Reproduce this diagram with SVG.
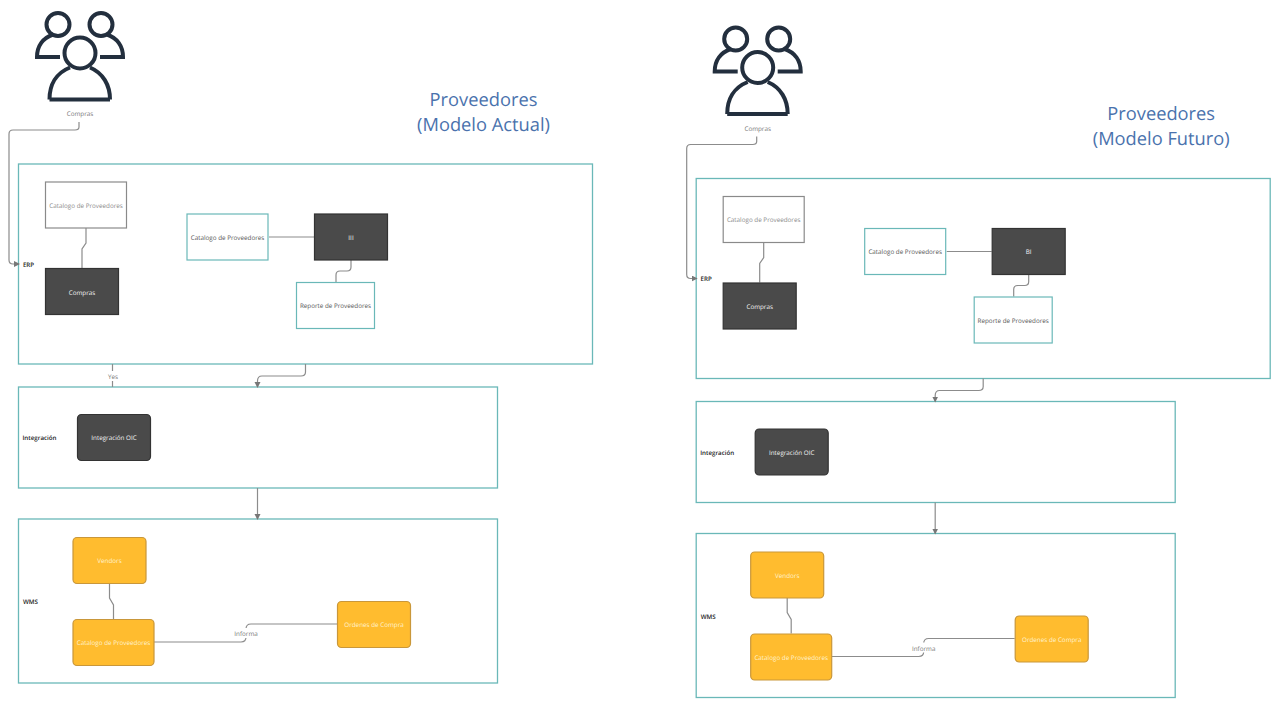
<svg xmlns="http://www.w3.org/2000/svg" width="1280" height="707" viewBox="0 0 1280 707">
<style>
text{font-family:"Open Sans","Noto Sans","Liberation Sans",sans-serif;font-size:6.3px;text-anchor:middle;dominant-baseline:central;text-rendering:geometricPrecision}
.lane{fill:#fff;stroke:#6ab8b8;stroke-width:1.3}
.plain{fill:#fff;stroke:#8a8a8a;stroke-width:1.2}
.teal{fill:#fff;stroke:#6ab8b8;stroke-width:1.2}
.dark{fill:#4a4a4a;stroke:#333;stroke-width:1.2}
.amber{fill:#ffbc2f;stroke:#c9973a;stroke-width:1.2}
.c{fill:none;stroke:#8c8c8c;stroke-width:1.2}
.ci{fill:none;stroke:#232f3e;stroke-width:4}
.t{font-size:18.300px;fill:#4a72ad}
.g{fill:#8a8a8a}
.d{fill:#555}
.w{fill:#f4f4f4}
.a{fill:#fff3d0}
.l{fill:#222;font-weight:600;font-size:6.200px}
.lb{fill:#777}
</style>
<defs>
<marker id="ah" markerWidth="7" markerHeight="7" refX="5" refY="3" orient="auto" markerUnits="userSpaceOnUse"><path d="M0 0L6 3L0 6z" fill="#777"/></marker>
<g id="people">
<circle class="ci" cx="58" cy="24.500" r="11.500"/>
<circle class="ci" cx="101" cy="24.500" r="11.500"/>
<circle class="ci" cx="80" cy="53" r="15.500"/>
<path class="ci" d="M60 57H37C37 46 43 38 53 34.500M100 57H123C123 46 117 38 107 34.500"/>
<path class="ci" d="M49.500 99.500H110M49.500 99.500C49.500 85 56 73 70 67.500M110 99.500C110 85 103 73 90 67.500"/>
</g>
</defs>

<g id="panel-actual">
<use id="icon-compras-actual" href="#people"/>
<g id="lane-erp"><rect class="lane" x="18.500" y="164" width="574" height="200"/><text class="l" x="28.500" y="264">ERP</text></g>
<g id="lane-integracion"><rect class="lane" x="18.500" y="387" width="479" height="101"/><text class="l" x="39.500" y="437.500">Integración</text></g>
<g id="lane-wms"><rect class="lane" x="18.500" y="519" width="479" height="164"/><text class="l" x="30.500" y="601.500">WMS</text></g>
<g id="conn-actual">
<path class="c" d="M79 122V127Q79 130 75 130H13Q9 130 9 134V260Q9 264 13 264H19" marker-end="url(#ah)"/>
<path class="c" d="M86 228V243L82 249V268"/>
<path class="c" d="M269 237H314"/>
<path class="c" d="M351 260V267Q351 271 347 271H340Q336 271 336 275V282"/>
<path class="c" d="M112.500 364V387"/>
<path class="c" d="M305.500 364V372Q305.500 376 301 376H262Q257.500 376 257.500 381V387" marker-end="url(#ah)"/>
<path class="c" d="M257.500 488V519" marker-end="url(#ah)"/>
<path class="c" d="M109.500 583V598L113.500 605V619"/>
<path class="c" d="M154 642H241Q246 642 246 637V629Q246 624 251 624H337"/>
</g>
<g id="n1"><rect class="plain" x="45.500" y="182" width="81" height="46"/><text class="g" x="86" y="205">Catalogo de Proveedores</text></g>
<g id="n2"><rect class="dark" x="45.500" y="268.500" width="73" height="46"/><text class="w" x="82" y="292">Compras</text></g>
<g id="n3"><rect class="teal" x="187" y="214" width="81" height="46"/><text class="d" x="227.500" y="237">Catalogo de Proveedores</text></g>
<g id="n4"><rect class="dark" x="314.500" y="214" width="73" height="46"/><text class="w" x="351" y="237">III</text></g>
<g id="n5"><rect class="teal" x="296.500" y="282.500" width="78" height="46"/><text class="d" x="335.500" y="305.500">Reporte de Proveedores</text></g>
<g id="n6"><rect class="dark" x="77.500" y="414.500" width="73" height="46" rx="4"/><text class="w" x="114" y="437.500">Integración OIC</text></g>
<g id="n7"><rect class="amber" x="73" y="537.500" width="73" height="46" rx="4"/><text class="a" x="109.500" y="560.500">Vendors</text></g>
<g id="n8"><rect class="amber" x="73" y="619.500" width="81" height="46" rx="4"/><text class="a" x="113.500" y="642.500">Catalogo de Proveedores</text></g>
<g id="n9"><rect class="amber" x="337.500" y="601.500" width="73" height="46" rx="4"/><text class="a" x="374" y="624.500">Ordenes de Compra</text></g>
<rect x="106" y="371" width="14" height="10" fill="#fff"/><text class="lb" x="113" y="376">Yes</text>
<rect x="233" y="628" width="26" height="10" fill="#fff"/><text class="lb" x="246" y="633.500">Informa</text>
<text class="lb" x="80" y="113.500">Compras</text>
<text class="t" x="483.500" y="99">Proveedores</text>
<text class="t" x="483.500" y="124">(Modelo Actual)</text>
</g>

<g id="panel-futuro" transform="translate(677.700 14.500)">
<use id="icon-compras-futuro" href="#people"/>
<g id="lane-erp-2"><rect class="lane" x="18.500" y="164" width="574" height="200"/><text class="l" x="28.500" y="264">ERP</text></g>
<g id="lane-integracion-2"><rect class="lane" x="18.500" y="387" width="479" height="101"/><text class="l" x="39.500" y="437.500">Integración</text></g>
<g id="lane-wms-2"><rect class="lane" x="18.500" y="519" width="479" height="164"/><text class="l" x="30.500" y="601.500">WMS</text></g>
<g id="conn-futuro">
<path class="c" d="M79 122V127Q79 130 75 130H13Q9 130 9 134V260Q9 264 13 264H19" marker-end="url(#ah)"/>
<path class="c" d="M86 228V243L82 249V268"/>
<path class="c" d="M269 237H314"/>
<path class="c" d="M351 260V267Q351 271 347 271H340Q336 271 336 275V282"/>
<path class="c" d="M305.500 364V372Q305.500 376 301 376H262Q257.500 376 257.500 381V387" marker-end="url(#ah)"/>
<path class="c" d="M257.500 488V519" marker-end="url(#ah)"/>
<path class="c" d="M109.500 583V598L113.500 605V619"/>
<path class="c" d="M154 642H241Q246 642 246 637V629Q246 624 251 624H337"/>
</g>
<g id="m1"><rect class="plain" x="45.500" y="182" width="81" height="46"/><text class="g" x="86" y="205">Catalogo de Proveedores</text></g>
<g id="m2"><rect class="dark" x="45.500" y="268.500" width="73" height="46"/><text class="w" x="82" y="292">Compras</text></g>
<g id="m3"><rect class="teal" x="187" y="214" width="81" height="46"/><text class="d" x="227.500" y="237">Catalogo de Proveedores</text></g>
<g id="m4"><rect class="dark" x="314.500" y="214" width="73" height="46"/><text class="w" x="351" y="237">BI</text></g>
<g id="m5"><rect class="teal" x="296.500" y="282.500" width="78" height="46"/><text class="d" x="335.500" y="305.500">Reporte de Proveedores</text></g>
<g id="m6"><rect class="dark" x="77.500" y="414.500" width="73" height="46" rx="4"/><text class="w" x="114" y="437.500">Integración OIC</text></g>
<g id="m7"><rect class="amber" x="73" y="537.500" width="73" height="46" rx="4"/><text class="a" x="109.500" y="560.500">Vendors</text></g>
<g id="m8"><rect class="amber" x="73" y="619.500" width="81" height="46" rx="4"/><text class="a" x="113.500" y="642.500">Catalogo de Proveedores</text></g>
<g id="m9"><rect class="amber" x="337.500" y="601.500" width="73" height="46" rx="4"/><text class="a" x="374" y="624.500">Ordenes de Compra</text></g>
<rect x="233" y="628" width="26" height="10" fill="#fff"/><text class="lb" x="246" y="633.500">Informa</text>
<text class="lb" x="80" y="113.500">Compras</text>
<text class="t" x="483.500" y="99">Proveedores</text>
<text class="t" x="483.500" y="124">(Modelo Futuro)</text>
</g>
</svg>
